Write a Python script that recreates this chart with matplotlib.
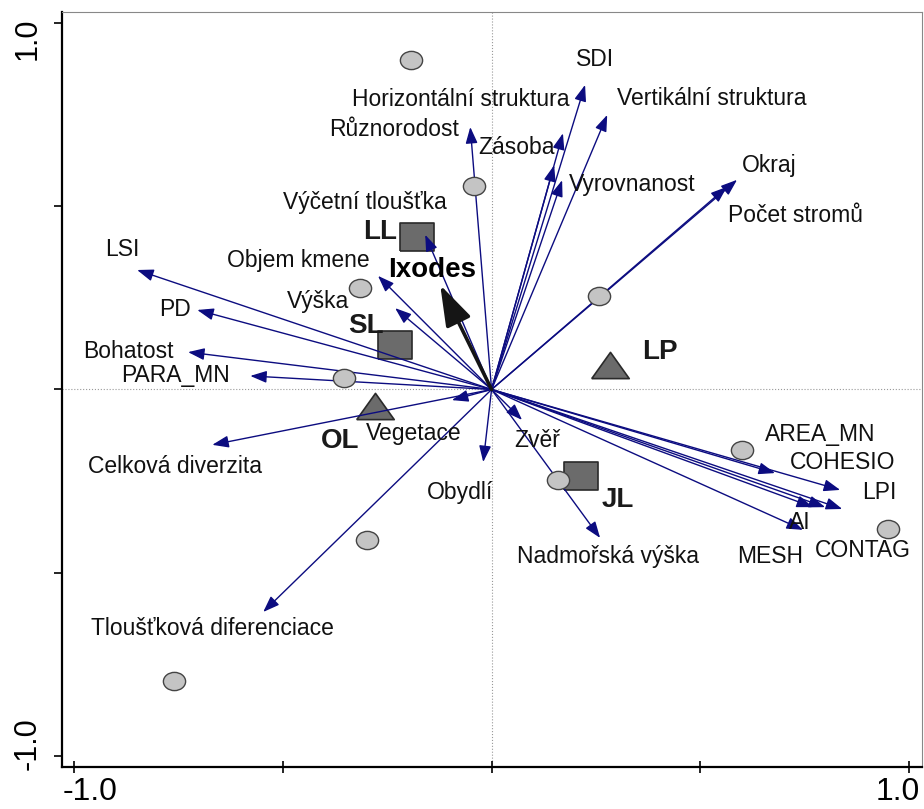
import numpy as np
import matplotlib
matplotlib.use('Agg')
import matplotlib.pyplot as plt
from matplotlib.path import Path
from matplotlib.transforms import Affine2D

plt.rcParams['font.family'] = ['Liberation Sans', 'DejaVu Sans']

# environmental variables (arrow tips)
var_names = ['LSI', 'PD', 'Bohatost', 'PARA_MN', 'Objem kmene', 'Výška',
             'Výčetní tloušťka', 'Různorodost', 'Horizontální struktura',
             'Zásoba', 'SDI', 'Vertikální struktura', 'Vyrovnanost', 'Okraj',
             'Počet stromů', 'Celková diverzita', 'Tloušťková diferenciace',
             'Vegetace', 'Obydlí', 'Zvěř', 'Nadmořská výška', 'AREA_MN',
             'COHESIO', 'LPI', 'AI', 'CONTAG', 'MESH']
var_x = [-0.849, -0.705, -0.727, -0.578, -0.272, -0.231, -0.159, -0.051, 0.150,
         0.171, 0.224, 0.277, 0.169, 0.588, 0.564, -0.669, -0.547, -0.095,
         -0.020, 0.073, 0.260, 0.679, 0.835, 0.840, 0.799, 0.770, 0.746]
var_y = [0.326, 0.217, 0.102, 0.037, 0.310, 0.222, 0.422, 0.716, 0.612,
         0.699, 0.831, 0.749, 0.571, 0.572, 0.553, -0.151, -0.607, -0.029,
         -0.198, -0.083, -0.405, -0.228, -0.274, -0.326, -0.321, -0.321, -0.383]

# where the variable names sit
label_x = [-0.885, -0.758, -0.871, -0.756, -0.463, -0.416, -0.303, -0.234, -0.075,
           0.059, 0.248, 0.528, 0.337, 0.665, 0.729, -0.758, -0.669, -0.186,
           -0.075, 0.109, 0.280, 0.787, 0.842, 0.930, 0.739, 0.890, 0.667]
label_y = [0.381, 0.217, 0.105, 0.037, 0.353, 0.239, 0.509, 0.708, 0.790,
           0.659, 0.899, 0.795, 0.558, 0.612, 0.476, -0.209, -0.651, -0.121,
           -0.282, -0.138, -0.457, -0.124, -0.200, -0.282, -0.362, -0.438, -0.457]

# species
sp_name = 'Ixodes'
sp_x, sp_y = -0.123, 0.285
sp_lab = (-0.142, 0.326)

# sites
site_x = [-0.193, -0.042, -0.315, -0.353, 0.257, 0.600, 0.159, 0.950, -0.298, -0.760]
site_y = [0.899, 0.555, 0.277, 0.031, 0.255, -0.165, -0.247, -0.381, -0.411, -0.795]

# habitat centroids
sq_names = ['LL', 'SL', 'JL']
sq_x = [-0.178, -0.231, 0.214]
sq_y = [0.416, 0.121, -0.236]
sq_lab_x = [-0.267, -0.301, 0.303]
sq_lab_y = [0.430, 0.173, -0.302]

tri_names = ['LP', 'OL']
tri_x = [0.284, -0.279]
tri_y = [0.067, -0.045]
tri_lab_x = [0.404, -0.363]
tri_lab_y = [0.102, -0.141]

navy = '#0c0c80'

fig = plt.figure(figsize=(9.24, 8.09), dpi=100)
ax = fig.add_axes([0.0671, 0.0519, 0.9307, 0.9333])
ax.set_xlim(-1.029, 1.031)
ax.set_ylim(-1.030, 1.030)

ax.axhline(0, color='#999999', lw=0.8, ls=':', zorder=0)
ax.axvline(0, color='#999999', lw=0.8, ls=':', zorder=0)

# markers shaped like the (slightly stretched) originals
ell = Path.unit_circle().transformed(Affine2D().scale(1, 0.82))
rect = [(-1, -0.85), (1, -0.85), (1, 0.85), (-1, 0.85), (-1, -0.85)]
tri = [(-1, -0.7), (1, -0.7), (0, 0.7), (-1, -0.7)]

ax.plot(sq_x, sq_y, ls='none', marker=rect, ms=24, mfc='#6b6b6b', mec='#2a2a2a', mew=1.2, zorder=2)
ax.plot(tri_x, tri_y, ls='none', marker=tri, ms=27, mfc='#6b6b6b', mec='#2a2a2a', mew=1.2, zorder=2)

for i in range(len(var_names)):
    ax.annotate('', xy=(var_x[i], var_y[i]), xytext=(0, 0),
                arrowprops=dict(arrowstyle='-|>,head_length=0.9,head_width=0.33',
                                mutation_scale=11, color=navy, lw=1.0,
                                shrinkA=0, shrinkB=0), zorder=3)
    ax.text(label_x[i], label_y[i], var_names[i], fontsize=16.5, ha='center',
            va='center', color='#111111', zorder=5)

ax.plot(site_x, site_y, ls='none', marker=ell, ms=16, mfc='#c4c4c4', mec='#444444', mew=1.0, zorder=4)

ax.annotate('', xy=(sp_x, sp_y), xytext=(0, 0),
            arrowprops=dict(arrowstyle='-|>,head_length=1.0,head_width=0.33',
                            mutation_scale=25, color='#151515', lw=2.6,
                            shrinkA=0, shrinkB=0), zorder=4)
ax.text(sp_lab[0], sp_lab[1], sp_name, fontsize=20, fontweight='bold', ha='center', va='center', zorder=5)

for i in range(len(sq_names)):
    ax.text(sq_lab_x[i], sq_lab_y[i], sq_names[i], fontsize=20, fontweight='bold',
            ha='center', va='center', color='#1a1a1a', zorder=5)
for i in range(len(tri_names)):
    ax.text(tri_lab_x[i], tri_lab_y[i], tri_names[i], fontsize=20, fontweight='bold',
            ha='center', va='center', color='#1a1a1a', zorder=5)

# frame and ticks
for s in ['top', 'right']:
    ax.spines[s].set_color('#888888')
    ax.spines[s].set_linewidth(0.8)
for s in ['left', 'bottom']:
    ax.spines[s].set_color('black')
    ax.spines[s].set_linewidth(1.6)

ticks = [-1.0, -0.5, 0.0, 0.5, 1.0]
ax.set_xticks(ticks)
ax.set_yticks(ticks)
ax.set_xticklabels([])
ax.set_yticklabels([])
ax.tick_params(axis='x', direction='inout', length=8, width=1.2)
ax.tick_params(axis='y', direction='out', length=6, width=1.2)

ax.annotate('-1.0', xy=(-1.0, 0), xycoords=('data', 'axes fraction'), xytext=(-8, -7),
            textcoords='offset points', ha='left', va='top', fontsize=23)
ax.annotate('1.0', xy=(1.0, 0), xycoords=('data', 'axes fraction'), xytext=(8, -7),
            textcoords='offset points', ha='right', va='top', fontsize=23)
ax.annotate('1.0', xy=(0, 1.0), xycoords=('axes fraction', 'data'), xytext=(-14, 4),
            textcoords='offset points', ha='right', va='top', rotation=90, fontsize=22)
ax.annotate('-1.0', xy=(0, -1.0), xycoords=('axes fraction', 'data'), xytext=(-14, -10),
            textcoords='offset points', ha='right', va='bottom', rotation=90, fontsize=22)

fig.savefig('out.png', dpi=100)
